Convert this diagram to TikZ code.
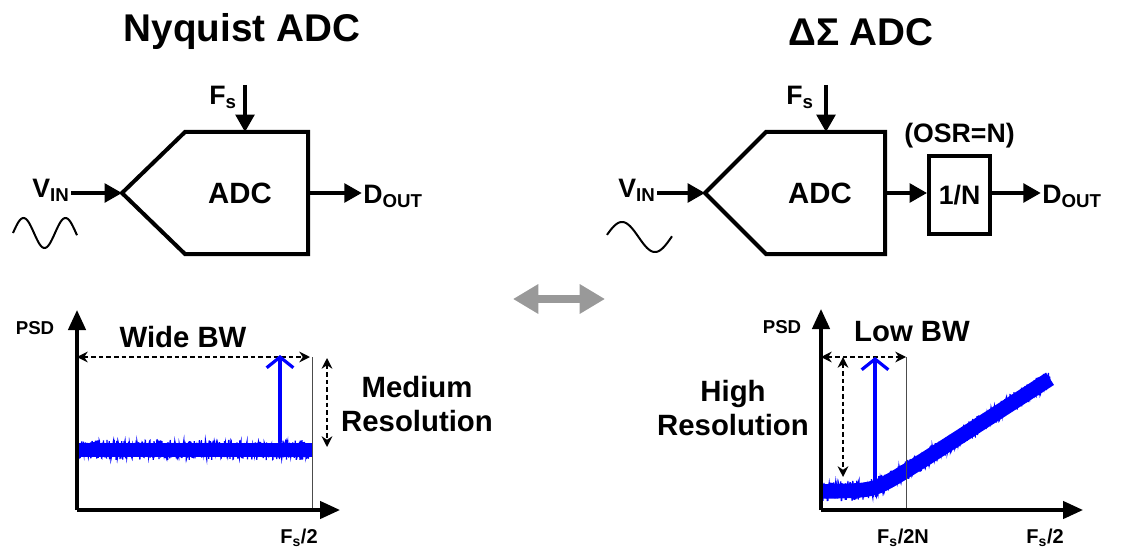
\documentclass[tikz,border=0pt]{standalone}
\usepackage{fontspec}
\setmainfont{Liberation Sans}
\usetikzlibrary{arrows.meta, positioning}

\begin{document}
\begin{tikzpicture}[
    x=0.75pt, y=-0.75pt,
    every node/.style={font=\bfseries, inner sep=1pt},
    title/.style ={font=\fontsize{29}{34}\selectfont\bfseries},
    big/.style   ={font=\fontsize{22}{26}\selectfont\bfseries, align=center},
    lbl/.style   ={font=\fontsize{20}{24}\selectfont\bfseries},
    tick/.style  ={font=\fontsize{15}{18}\selectfont\bfseries},
    psd/.style   ={font=\fontsize{14}{17}\selectfont\bfseries},
    blk/.style   ={line width=3pt, line join=miter},
    divbox/.style={rectangle, draw, line width=3pt, minimum width=45.75pt,
                   minimum height=58.5pt, font=\fontsize{20}{24}\selectfont\bfseries},
    sig/.style   ={line width=2.6pt, -{Triangle[length=13pt,width=14pt]}},
    axis/.style  ={line width=2.6pt, -{Triangle[length=15pt,width=13pt]}},
    span/.style  ={line width=1.4pt, dash pattern=on 3.5pt off 2.2pt,
                   {Stealth[length=8pt,width=8pt]}-{Stealth[length=8pt,width=8pt]}},
    edgeline/.style={black!70, line width=0.4pt},
    tone/.style  ={blue, line width=2.4pt, line cap=round,
                   -{Straight Barb[length=8pt,width=20pt]}},
    noise/.style ={blue, line width=0.9pt},
    core/.style  ={blue, line width=11pt},
    wave/.style  ={line width=1.5pt},
    swap/.style  ={gray!80, line width=6pt,
                   {Triangle[length=19pt,width=21pt]}-{Triangle[length=19pt,width=21pt]}},
]
\useasboundingbox (0,0) rectangle (1130,549);
\pgfmathsetseed{11}

% ── Titles ────────────────────────────────────────────────────
\node[title] (titleL) at (242,32) {Nyquist ADC};
\node[title] (titleR) at (861,32) {ΔΣ ADC};

% ── Nyquist ADC block ────────────────────────────────────────
\coordinate (adcL-in)  at (122,193);
\coordinate (adcL-out) at (308,193);
\coordinate (adcL-clk) at (245,132);
\coordinate (fsL-src)  at (245,85);
\draw[blk] (adcL-in) -- (185,132) -- (308,132) -- (308,254) -- (185,254) -- cycle;
\node[big] (adcL) at (240,193) {ADC};
\node[lbl] (fsL)   at (223,97)  {F\textsubscript{s}};
\node[lbl] (vinL)  at (51,190)  {V\textsubscript{IN}};
\node[lbl] (doutL) at (393,196) {D\textsubscript{OUT}};

\draw[sig] (fsL-src) -- (adcL-clk);
\draw[sig] (vinL.east |- adcL-in) -- (adcL-in);
\draw[sig] (adcL-out) -- (doutL.west |- adcL-out);
\draw[wave] plot[domain=0:64, samples=80, smooth] ({13+\x}, {233-15*sin(\x/42*360)});

% ── Delta-Sigma ADC block ────────────────────────────────────
\coordinate (adcR-in)  at (705,193);
\coordinate (adcR-out) at (885,193);
\coordinate (adcR-clk) at (826,132);
\coordinate (fsR-src)  at (826,85);
\draw[blk] (adcR-in) -- (766,132) -- (885,132) -- (885,254) -- (766,254) -- cycle;
\node[big] (adcR) at (820,193) {ADC};
\node[lbl] (fsR)   at (800,97)  {F\textsubscript{s}};
\node[lbl] (vinR)  at (637,190) {V\textsubscript{IN}};
\node[divbox] (dec) at (959.5,195) {1/N};
\node[lbl, above=3pt of dec] (osr) {(OSR=N)};
\node[lbl] (doutR) at (1072,196) {D\textsubscript{OUT}};

\draw[sig] (fsR-src) -- (adcR-clk);
\draw[sig] (vinR.east |- adcR-in) -- (adcR-in);
\draw[sig] (adcR-out) -- (dec.west |- adcR-out);
\draw[sig] (dec.east |- adcR-out) -- (doutR.west |- adcR-out);
\draw[wave] plot[domain=607:672, samples=80, smooth] (\x, {237-15*sin((\x-622)/66*360+90)});

% ── Comparison arrow ─────────────────────────────────────────
\coordinate (swapL) at (513,299);
\coordinate (swapR) at (605,299);
\draw[swap] (swapL) -- (swapR);

% ── Nyquist PSD ──────────────────────────────────────────────
\coordinate (oL) at (77,510);
\coordinate (yL) at (77,310);
\coordinate (xL) at (340,510);
\coordinate (bwL-a) at (77,357);
\coordinate (bwL-b) at (310,357);
\coordinate (resL-a) at (327,358);
\coordinate (resL-b) at (327,447);
\coordinate (toneL-a) at (280,442);
\coordinate (toneL-b) at (280,355);

\draw[core] (77,450) -- (312,450);
\draw[noise] plot[domain=77:312, samples=700] (\x, {450+10*rand});
\draw[edgeline] (312,357) -- (312,510);
\draw[axis] (oL) -- (yL);
\draw[axis] (oL) -- (xL);
\draw[span] (bwL-a) -- (bwL-b);
\draw[span] (resL-a) -- (resL-b);
\draw[tone] (toneL-a) -- (toneL-b);

\node[psd]  (psdL)  at (35,328)  {PSD};
\node[big]  (bwL)   at (183,337) {Wide BW};
\node[big]  (resL)  at (417,404) {Medium\\Resolution};
\node[tick] (fs2L)  at (299,538) {F\textsubscript{s}/2};

% ── Delta-Sigma PSD ──────────────────────────────────────────
\coordinate (oR) at (821,510);
\coordinate (yR) at (821,309);
\coordinate (xR) at (1083,510);
\coordinate (bwR-a) at (821,357);
\coordinate (bwR-b) at (906,357);
\coordinate (resR-a) at (843,357);
\coordinate (resR-b) at (843,477);
\coordinate (toneR-a) at (875,484);
\coordinate (toneR-b) at (875,357);

\draw[core] plot[domain=821:1050, samples=120]
    (\x, {492 - 6.46*((\x-875)/10 + sqrt(((\x-875)/10)^2+2))/2});
\draw[noise] plot[domain=821:1050, samples=700]
    (\x, {492 - 6.46*((\x-875)/10 + sqrt(((\x-875)/10)^2+2))/2 + 10*rand});
\draw[edgeline] (906,357) -- (906,510);
\draw[axis] (oR) -- (yR);
\draw[axis] (oR) -- (xR);
\draw[span] (bwR-a) -- (bwR-b);
\draw[span] (resR-a) -- (resR-b);
\draw[tone] (toneR-a) -- (toneR-b);

\node[psd]  (psdR)  at (782,327)  {PSD};
\node[big]  (bwR)   at (912,332)  {Low BW};
\node[big]  (resR)  at (733,408)  {High\\Resolution};
\node[tick] (fs2NR) at (903,538)  {F\textsubscript{s}/2N};
\node[tick] (fs2R)  at (1045,538) {F\textsubscript{s}/2};

\end{tikzpicture}
\end{document}
